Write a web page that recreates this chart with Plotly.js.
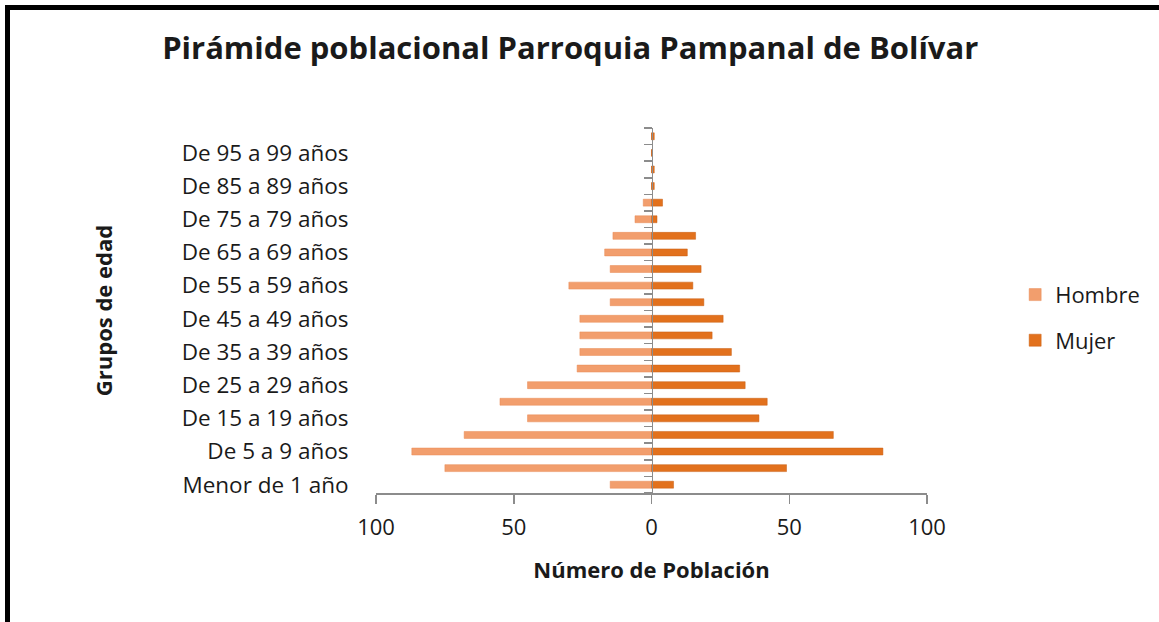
<!DOCTYPE html>
<html>
<head>
<meta charset="utf-8">
<script src="https://cdn.plot.ly/plotly-3.0.1.min.js"></script>
<style>
  html, body { margin: 0; padding: 0; background: #ffffff; }
  #frame { position: absolute; left: 0; top: 0; width: 1159px; height: 622px; overflow: hidden; }
  #border { position: absolute; left: 5px; top: 5px; width: 1200px; height: 700px;
            border-left: 5px solid #000; border-top: 5px solid #000; pointer-events: none; }
  #chart { position: absolute; left: 0; top: 0; width: 1159px; height: 622px; }
</style>
</head>
<body>
<div id="frame">
  <div id="chart"></div>
  <div id="border"></div>
</div>
<script>
// Age groups (bottom to top)
const grupos = [
  "Menor de 1 año", "De 1 a 4 años", "De 5 a 9 años", "De 10 a 14 años",
  "De 15 a 19 años", "De 20 a 24 años", "De 25 a 29 años", "De 30 a 34 años",
  "De 35 a 39 años", "De 40 a 44 años", "De 45 a 49 años", "De 50 a 54 años",
  "De 55 a 59 años", "De 60 a 64 años", "De 65 a 69 años", "De 70 a 74 años",
  "De 75 a 79 años", "De 80 a 84 años", "De 85 a 89 años", "De 90 a 94 años",
  "De 95 a 99 años", "De 100 años y más"
];
// Population counts
const hombre = [15, 75, 87, 68, 45, 55, 45, 27, 26, 26, 26, 15, 30, 15, 17, 14, 6, 3, 0, 0, 0, 0];
const mujer  = [8, 49, 84, 66, 39, 42, 34, 32, 29, 22, 26, 19, 15, 18, 13, 16, 2, 4, 1, 1, 0, 1];
// X axis ticks
const xTickVals = [-100, -50, 0, 50, 100];
const xTickText = ["100", "50", "0", "50", "100"];

const FONT = "Open Sans, Calibri, sans-serif";
const TXT = "#1a1a1a";

const traces = [
  {
    type: "bar", orientation: "h", name: "Hombre",
    y: grupos, x: hombre.map(v => -v),
    yaxis: "y", legendgroup: "h",
    marker: { color: "#F29E6D", line: { color: "#E98A55", width: 0.5 } },
    hoverinfo: "skip"
  },
  {
    type: "bar", orientation: "h", name: "Mujer",
    y: grupos, x: mujer,
    yaxis: "y2", legendgroup: "m",
    marker: { color: "#E2711D", line: { color: "#C95F12", width: 0.5 } },
    hoverinfo: "skip"
  }
];

const yRange = [-0.5, grupos.length - 0.5];

const layout = {
  width: 1159, height: 622,
  paper_bgcolor: "rgba(0,0,0,0)", plot_bgcolor: "rgba(0,0,0,0)",
  margin: { l: 376, r: 232, t: 128, b: 129, pad: 0 },
  font: { family: FONT, color: TXT },
  title: {
    text: "<b>Pirámide poblacional Parroquia Pampanal de Bolívar</b>",
    font: { family: FONT, size: 31, color: TXT },
    x: 0.492, xanchor: "center", y: 0.923, yanchor: "middle"
  },
  bargap: 0.58,
  showlegend: true,
  legend: {
    x: 1.16, xanchor: "left", y: 0.48, yanchor: "middle",
    font: { family: FONT, size: 22, color: TXT },
    traceorder: "grouped", tracegroupgap: 14,
    itemwidth: 30, bgcolor: "rgba(0,0,0,0)"
  },
  xaxis: {
    range: [-100, 100], tickvals: xTickVals, ticktext: xTickText,
    showgrid: false, zeroline: false,
    showline: true, linecolor: "#8c8c8c", linewidth: 1.5,
    ticks: "outside", ticklen: 9, tickcolor: "#8c8c8c", tickwidth: 1.5,
    ticklabelstandoff: 5,
    tickfont: { family: FONT, size: 22, color: TXT },
    title: { text: "<b>Número de Población</b>", font: { family: FONT, size: 22, color: TXT }, standoff: 22 },
    fixedrange: true
  },
  yaxis: {
    type: "category", categoryorder: "array", categoryarray: grupos,
    range: yRange, dtick: 2, tick0: 0,
    showgrid: false, zeroline: false, showline: false,
    ticks: "outside", ticklen: 22, tickcolor: "rgba(0,0,0,0)",
    tickfont: { family: FONT, size: 22.5, color: TXT },
    title: { text: "<b>Grupos de edad</b>", font: { family: FONT, size: 22, color: TXT }, standoff: 62 },
    fixedrange: true
  },
  yaxis2: {
    type: "category", categoryorder: "array", categoryarray: grupos,
    range: yRange, overlaying: "y", anchor: "free", position: 0.5, side: "left",
    showgrid: false, zeroline: false, showticklabels: false,
    showline: true, linecolor: "#8c8c8c", linewidth: 1.5,
    ticks: "outside", tickson: "boundaries", ticklen: 8, tickcolor: "#8c8c8c", tickwidth: 1.5,
    fixedrange: true
  }
};

Plotly.newPlot("chart", traces, layout, { displayModeBar: false, staticPlot: true });
</script>
</body>
</html>
